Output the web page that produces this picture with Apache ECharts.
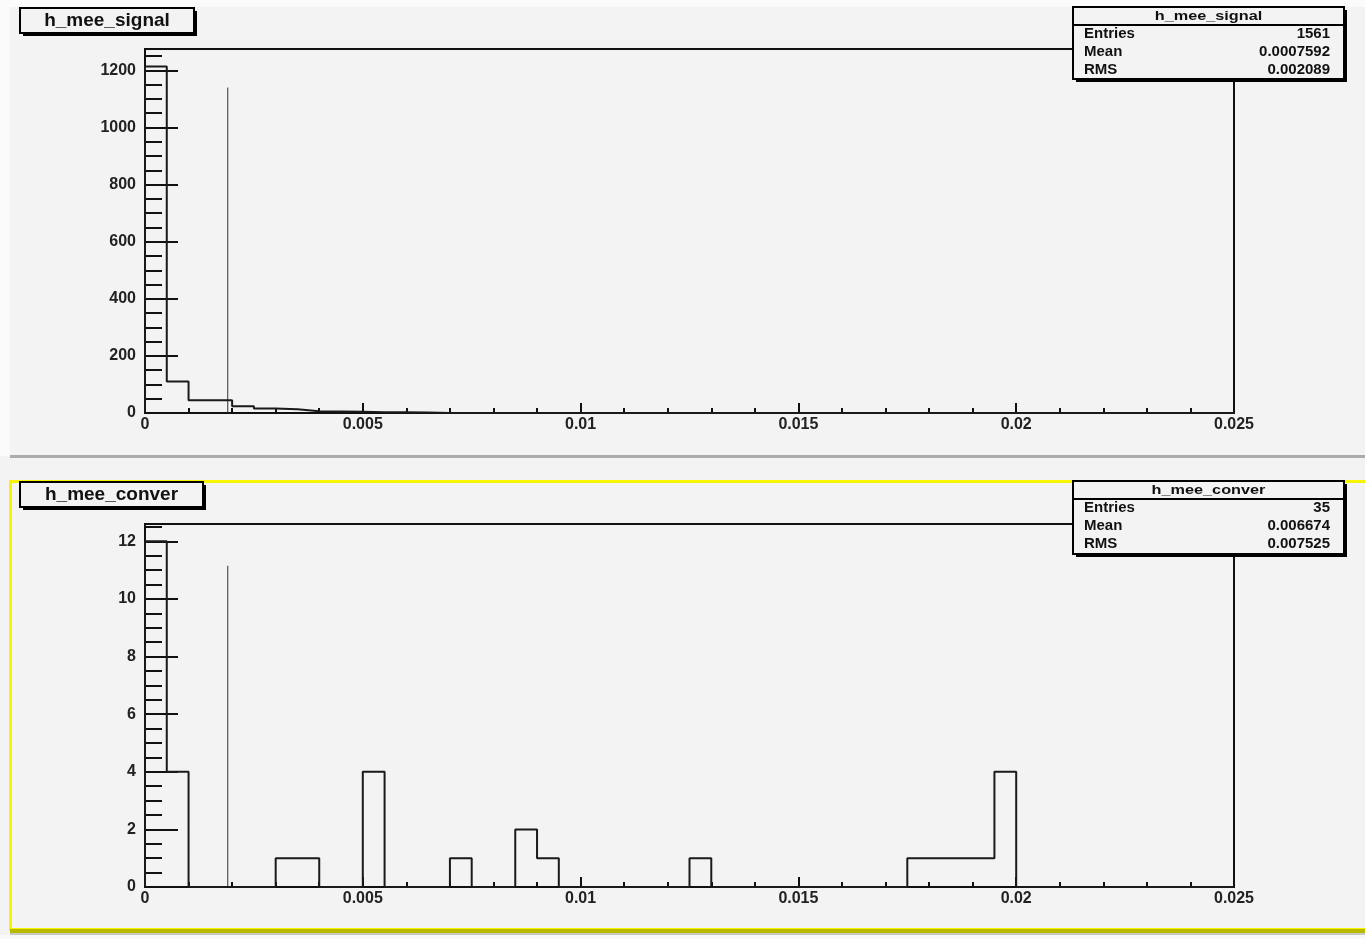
<!DOCTYPE html>
<html>
<head>
<meta charset="utf-8">
<script src="https://cdn.jsdelivr.net/npm/echarts@6/dist/echarts.min.js"></script>
<style>
html,body{margin:0;padding:0;background:#f3f3f3;}
#chart{width:1365px;height:939px;}
</style>
</head>
<body>
<div id="chart"></div>
<script>
// ---- data ----
const binWidth = 0.0005;
const nBins = 50;
const signalCounts = [1214,110,45,45,24,16,13,6,5,4,3,3,2,0,0,0,0,0,0,0,0,0,0,0,0,0,0,0,0,0,0,0,0,0,0,0,0,0,0,0,0,0,0,0,0,0,0,0,0,0];
const converCounts = [12,4,0,0,0,0,1,1,0,0,4,0,0,0,1,0,0,2,1,0,0,0,0,0,0,1,0,0,0,0,0,0,0,0,0,1,1,1,1,4,0,0,0,0,0,0,0,0,0,0];
const xTicks = [0,0.005,0.01,0.015,0.02,0.025];
const ySignalTicks = [0,200,400,600,800,1000,1200];
const ySignalMinor = [50,100,150,250,300,350,450,500,550,650,700,750,850,900,950,1050,1100,1150,1250];
const yConverTicks = [0,2,4,6,8,10,12];
const yConverMinor = [0.5,1,1.5,2.5,3,3.5,4.5,5,5.5,6.5,7,7.5,8.5,9,9.5,10.5,11,11.5,12.5];
const ySignalMax = 1275;
const yConverMax = 12.6;
const cutX = 0.0019;
const cutTopSignal = 1140;
const cutTopConver = 11.15;
const statsSignal = {title:'h_mee_signal', rows:[['Entries','1561'],['Mean','0.0007592'],['RMS','0.002089']]};
const statsConver = {title:'h_mee_conver', rows:[['Entries','35'],['Mean','0.006674'],['RMS','0.007525']]};

function stepData(counts){
  const d = [[0,0]];
  counts.forEach((c,i)=>d.push([i*binWidth, c]));
  d.push([nBins*binWidth, 0]);
  return d;
}

const FONT = 'Liberation Sans, Arial, Helvetica, sans-serif';
const chart = echarts.init(document.getElementById('chart'), null, {renderer:'canvas'});

function xAxisDef(gi){
  return {
    type:'value', gridIndex:gi, min:0, max:0.025, interval:0.005,
    axisLine:{show:true, onZero:false, lineStyle:{color:'#111', width:2}},
    axisTick:{show:true, inside:true, length:10, customValues:xTicks, lineStyle:{color:'#111', width:2}},
    minorTick:{show:true, splitNumber:5, length:5, lineStyle:{color:'#111', width:2}},
    splitLine:{show:false}, minorSplitLine:{show:false},
    axisLabel:{color:'#222', fontFamily:FONT, fontSize:16, fontWeight:'bold', margin:4, customValues:xTicks,
      formatter:v=>String(parseFloat(Number(v).toFixed(4)))}
  };
}
function yAxisDef(gi, max, interval, ticks){
  return {
    type:'value', gridIndex:gi, position:'left', min:0, max:max, interval:interval,
    axisLine:{show:true, onZero:false, lineStyle:{color:'#111', width:2}},
    axisTick:{show:true, inside:true, length:33, customValues:ticks, lineStyle:{color:'#111', width:2}},
    splitLine:{show:false},
    axisLabel:{color:'#222', fontFamily:FONT, fontSize:16, fontWeight:'bold', margin:9, customValues:ticks,
      formatter:v=>String(v)}
  };
}
function yMinorDef(gi, max, minorVals){
  return {
    type:'value', gridIndex:gi, position:'left', offset:0, min:0, max:max,
    axisLine:{show:false, onZero:false},
    axisTick:{show:true, inside:true, length:17, customValues:minorVals, lineStyle:{color:'#111', width:2}},
    splitLine:{show:false},
    axisLabel:{show:false}
  };
}

function statsBox(x, y, w, h, sepY, stats){
  const els = [];
  els.push({type:'rect', z:100, shape:{x:x+3, y:y+3, width:w, height:h}, style:{fill:'#000'}});
  els.push({type:'rect', z:101, shape:{x:x, y:y, width:w, height:h}, style:{fill:'#f3f3f3', stroke:'#000', lineWidth:2}});
  els.push({type:'line', z:102, shape:{x1:x, y1:sepY, x2:x+w, y2:sepY}, style:{stroke:'#000', lineWidth:2}});
  els.push({type:'text', z:103, x:x+w/2, y:(y+sepY)/2+0.5, scaleX:1.25,
    style:{text:stats.title, font:'bold 13px '+FONT, fill:'#111', align:'center', verticalAlign:'middle'}});
  stats.rows.forEach((r,i)=>{
    const ry = sepY + 8.5 + i*18;
    els.push({type:'text', z:103, x:x+11, y:ry, style:{text:r[0], font:'bold 15px '+FONT, fill:'#111', align:'left', verticalAlign:'middle'}});
    els.push({type:'text', z:103, x:x+w-14, y:ry, style:{text:r[1], font:'bold 15px '+FONT, fill:'#111', align:'right', verticalAlign:'middle'}});
  });
  return els;
}
function titleBox(x, y, w, h, text){
  return [
    {type:'rect', z:100, shape:{x:x+3, y:y+3, width:w, height:h}, style:{fill:'#000'}},
    {type:'rect', z:101, shape:{x:x, y:y, width:w, height:h}, style:{fill:'#f3f3f3', stroke:'#000', lineWidth:2}},
    {type:'text', z:103, x:x+w/2, y:y+h/2, style:{text:text, font:'bold 19px '+FONT, fill:'#111', align:'center', verticalAlign:'middle'}}
  ];
}

const graphics = [
  {type:'rect', z:-5, silent:true, shape:{x:0, y:0, width:1365, height:7}, style:{fill:'#fbfbfb'}},
  {type:'rect', z:-5, silent:true, shape:{x:0, y:0, width:10, height:456}, style:{fill:'#fbfbfb'}},
  {type:'rect', z:-4, silent:true, shape:{x:10, y:455, width:1355, height:3}, style:{fill:'#ababab'}},
  {type:'rect', z:-4, silent:true, shape:{x:10.5, y:481.5, width:1360, height:448}, style:{fill:'none', stroke:'#f5f500', lineWidth:3}},
  {type:'rect', z:-3, silent:true, shape:{x:10, y:929, width:1355, height:4}, style:{fill:'#b9b900'}},
  {type:'rect', z:-3, silent:true, shape:{x:10, y:933, width:1355, height:2}, style:{fill:'#c8c8c8'}},
  {type:'rect', z:-3, silent:true, shape:{x:0, y:935, width:1365, height:4}, style:{fill:'#f8f8f8'}}
].concat(
  titleBox(20, 8, 174, 25, 'h_mee_signal'),
  titleBox(20, 482, 183, 25, 'h_mee_conver'),
  statsBox(1073, 7, 271, 72, 25, statsSignal),
  statsBox(1073, 481, 271, 73, 499, statsConver)
);

const option = {
  backgroundColor:'#f3f3f3',
  animation:false,
  grid:[
    {left:145, top:49, width:1089, height:364, show:true, borderColor:'#111', borderWidth:2, backgroundColor:'transparent'},
    {left:145, top:524, width:1089, height:363, show:true, borderColor:'#111', borderWidth:2, backgroundColor:'transparent'}
  ],
  xAxis:[xAxisDef(0), xAxisDef(1)],
  yAxis:[
    yAxisDef(0, ySignalMax, 200, ySignalTicks),
    yAxisDef(1, yConverMax, 2, yConverTicks),
    yMinorDef(0, ySignalMax, ySignalMinor),
    yMinorDef(1, yConverMax, yConverMinor)
  ],
  series:[
    {type:'line', name:'h_mee_signal', xAxisIndex:0, yAxisIndex:0, step:'end', symbol:'none',
      data:stepData(signalCounts), lineStyle:{color:'#1a1a1a', width:2}, z:5},
    {type:'line', name:'h_mee_conver', xAxisIndex:1, yAxisIndex:1, step:'end', symbol:'none',
      data:stepData(converCounts), lineStyle:{color:'#1a1a1a', width:2}, z:5},
    {type:'line', name:'cutSignal', xAxisIndex:0, yAxisIndex:0, symbol:'none',
      data:[[cutX,0],[cutX,cutTopSignal]], lineStyle:{color:'#333', width:1}, z:4},
    {type:'line', name:'cutConver', xAxisIndex:1, yAxisIndex:1, symbol:'none',
      data:[[cutX,0],[cutX,cutTopConver]], lineStyle:{color:'#333', width:1}, z:4}
  ],
  graphic:graphics
};
chart.setOption(option);
</script>
</body>
</html>
